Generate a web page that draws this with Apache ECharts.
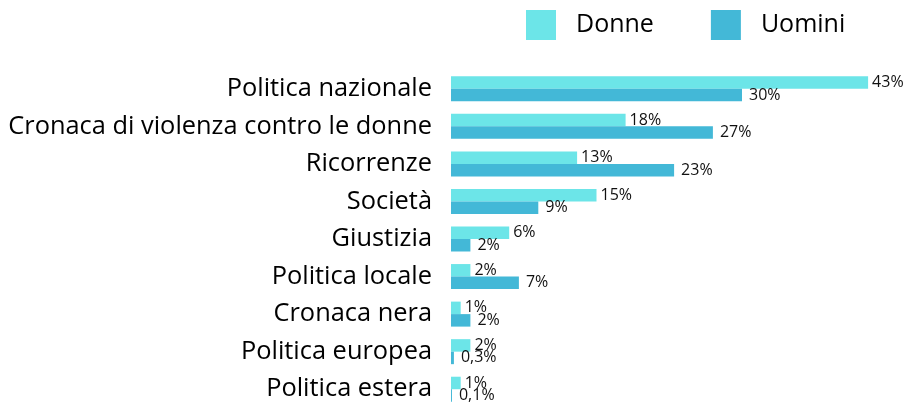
<!DOCTYPE html>
<html>
<head>
<meta charset="utf-8">
<script src="https://cdn.jsdelivr.net/npm/echarts@6/dist/echarts.min.js"></script>
<style>
  html, body { margin: 0; padding: 0; background: #fff; }
  #chart { width: 911px; height: 408px; }
</style>
</head>
<body>
<div id="chart"></div>
<script>
const categories = ['Politica nazionale', 'Cronaca di violenza contro le donne', 'Ricorrenze', 'Società', 'Giustizia', 'Politica locale', 'Cronaca nera', 'Politica europea', 'Politica estera']
const donne = [43, 18, 13, 15, 6, 2, 1, 2, 1]
const uomini = [30, 27, 23, 9, 2, 7, 2, 0.3, 0.1]

const chart = echarts.init(document.getElementById('chart'))
const font = '"Open Sans", "Noto Sans", sans-serif'
const labelFmt = p => String(p.value).replace('.', ',') + '%'

chart.setOption({
  animation: false,
  textStyle: { fontFamily: font },
  legend: {
    top: 5,
    left: 521,
    itemWidth: 30,
    itemHeight: 30,
    itemGap: 57,
    icon: 'rect',
    textStyle: { fontSize: 25, color: '#000', fontFamily: font, padding: [0, 0, 0, 15] },
    data: ['Donne', 'Uomini']
  },
  grid: {
    left: 451,
    right: 23.5,
    top: 70,
    bottom: 0,
    containLabel: false
  },
  xAxis: {
    type: 'value',
    min: 0,
    max: 45,
    show: false
  },
  yAxis: {
    type: 'category',
    inverse: true,
    data: categories,
    axisLine: { show: false },
    axisTick: { show: false },
    axisLabel: { fontSize: 25.4, color: '#000', margin: 19, fontFamily: font }
  },
  series: [
    {
      name: 'Donne',
      type: 'bar',
      data: donne,
      barWidth: 12.5,
      barGap: '0%',
      itemStyle: { color: '#6ce5e8' },
      label: { show: true, position: 'right', distance: 4, fontSize: 16, color: '#111', formatter: labelFmt }
    },
    {
      name: 'Uomini',
      type: 'bar',
      data: uomini,
      barWidth: 12.5,
      itemStyle: { color: '#43b8d7' },
      label: { show: true, position: 'right', distance: 7, fontSize: 16, color: '#111', formatter: labelFmt }
    }
  ]
})
</script>
</body>
</html>
